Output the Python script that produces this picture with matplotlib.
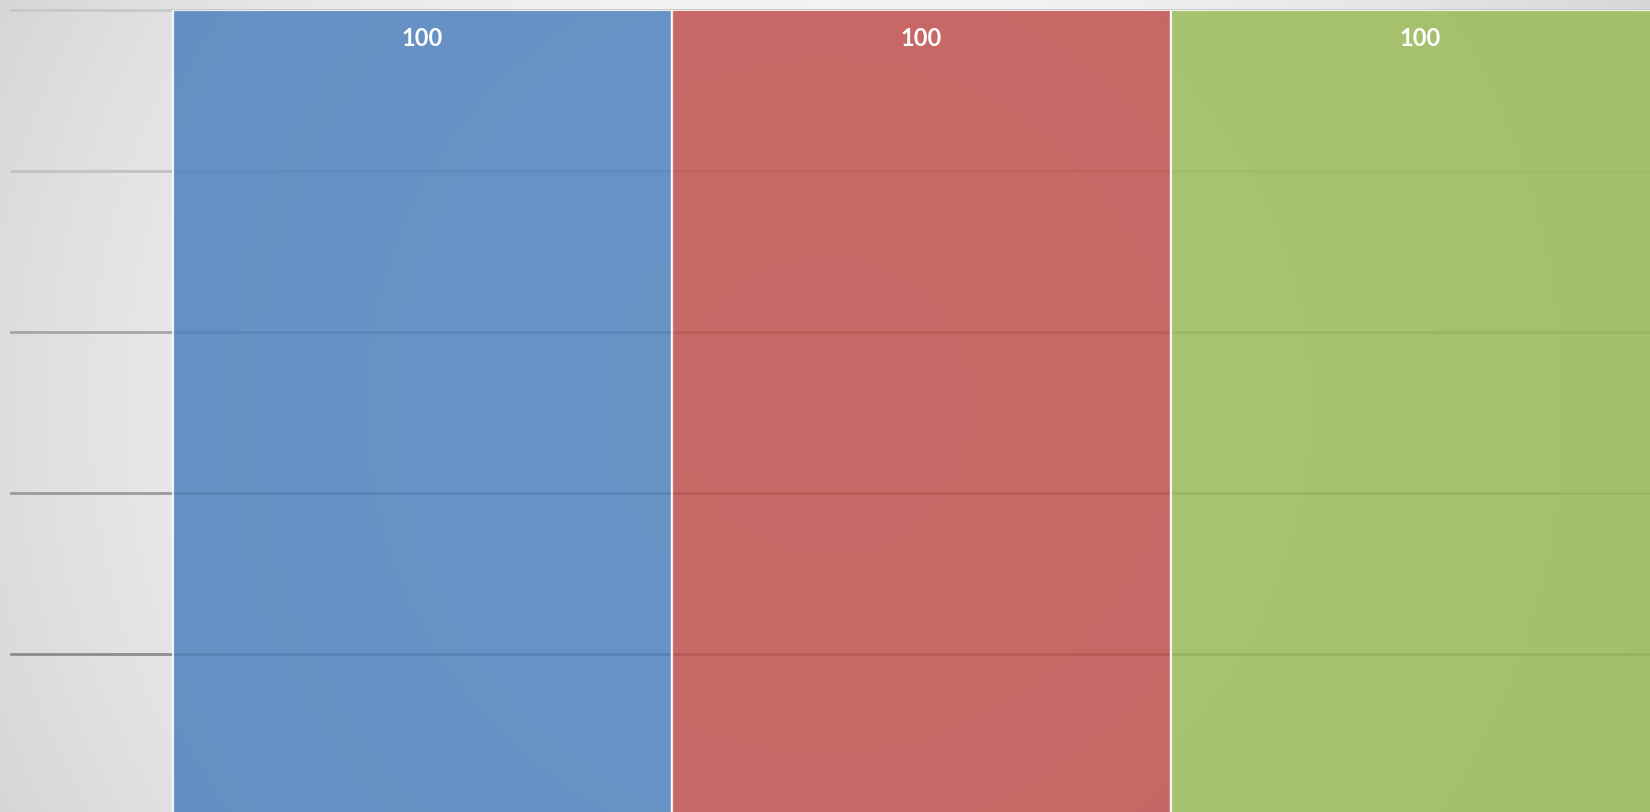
import numpy as np
import matplotlib
matplotlib.use("Agg")
import matplotlib.pyplot as plt

categories = ["A", "B", "C"]
values = [100, 100, 100]
bar_colors = ["#4F81BD", "#C0504D", "#9BBB59"]
yticks = [0, 20, 40, 60, 80, 100]
grid_colors = {20: "#8c8c8c", 40: "#9a9a9a", 60: "#a6a6a6", 80: "#c2c2c2", 100: "#c8c8c8"}

W, H = 1650, 812
fig = plt.figure(figsize=(W / 100 + 0.004, H / 100 + 0.004), dpi=100)

# radial gradient background
bg = fig.add_axes([0, 0, 1, 1], zorder=-10)
yy, xx = np.mgrid[0:H, 0:W]
d = np.sqrt((xx - W / 2) ** 2 + (yy - H / 2) ** 2) / np.sqrt((W / 2) ** 2 + (H / 2) ** 2)
v = (250 - 36 * d ** 2) / 255.0
bg.imshow(np.dstack([v, v, v]), extent=[0, 1, 0, 1], aspect="auto", interpolation="bilinear")
bg.set_axis_off()

# main axes (extends slightly past figure bottom / right as in the reference crop)
left_px, top_px, bottom_px = 11, 10.5, 815.5
ax = fig.add_axes([left_px / W, 1 - bottom_px / H, (W - left_px) / W, (bottom_px - top_px) / H])
ax.patch.set_alpha(0)
bar_left_px = 172.5
cat_px = 499.0
ax.set_xlim(-0.5 - (bar_left_px - left_px) / cat_px, -0.5 + (W - bar_left_px) / cat_px)
ax.set_ylim(0, 100)

for t in yticks[1:]:
    ax.axhline(t, color=grid_colors[t], lw=2.0, zorder=1, clip_on=False)

x = np.arange(len(categories))
bars = ax.bar(x, values, width=1.0, color=bar_colors, alpha=0.85, edgecolor="white",
              linewidth=1.6, zorder=2)
for xi, val in zip(x, values):
    ax.annotate(f"{val}", (xi, val), xytext=(0, -28), textcoords="offset pixels",
                ha="center", va="center", color="white", fontsize=17, fontweight="bold",
                family=["Lato", "DejaVu Sans"], zorder=5)

for s in ax.spines.values():
    s.set_visible(False)
ax.set_xticks([])
ax.set_yticks([])

fig.savefig("out.png", dpi=100)
